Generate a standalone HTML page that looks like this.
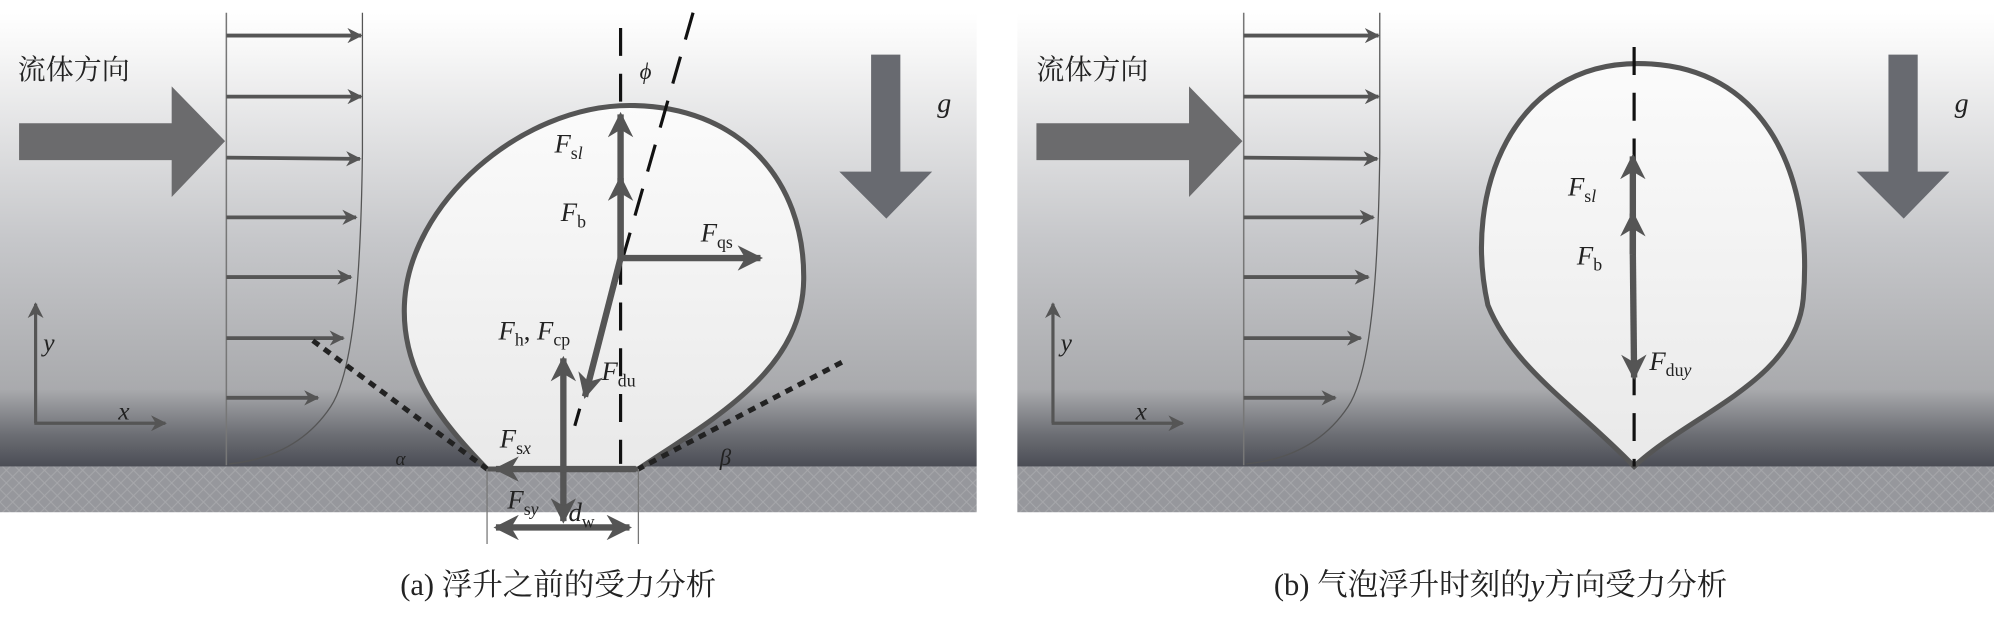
<!DOCTYPE html>
<html><head><meta charset="utf-8"><style>
html,body{margin:0;padding:0;background:#fff;}
svg{display:block;}
.t{font-family:"Liberation Serif","Noto Serif CJK SC",serif;font-style:italic;fill:#222;}
.s{font-style:normal;}
.c{font-family:"Liberation Serif","Noto Serif CJK SC",serif;fill:#222;}
</style></head><body>
<svg width="1994" height="619" viewBox="0 0 1568 487" preserveAspectRatio="none" xmlns="http://www.w3.org/2000/svg">
<defs>
<linearGradient id="bg" x1="0" y1="0" x2="0" y2="1">
<stop offset="0" stop-color="#ffffff"/>
<stop offset="0.08" stop-color="#f7f7f7"/>
<stop offset="0.5" stop-color="#c6c7ca"/>
<stop offset="0.83" stop-color="#a9aaad"/>
<stop offset="0.93" stop-color="#6c6e74"/>
<stop offset="1" stop-color="#4b4d55"/>
</linearGradient>
<linearGradient id="bub" x1="0" y1="0" x2="0" y2="1">
<stop offset="0" stop-color="#fbfbfb"/><stop offset="1" stop-color="#e9e9e9"/>
</linearGradient>
<pattern id="hx" width="10" height="10" patternUnits="userSpaceOnUse">
<rect width="10" height="10" fill="#96979c"/>
<path d="M0,5 L5,0 L10,5 L5,10 Z" fill="none" stroke="#a6a7ab" stroke-width="0.8"/>
</pattern>
<marker id="ah" viewBox="0 0 10 10" refX="9" refY="5" markerWidth="4" markerHeight="4" orient="auto-start-reverse" markerUnits="strokeWidth">
<path d="M0,0 L10,5 L0,10 L3,5 Z" fill="#555"/></marker>
<marker id="ah2" viewBox="0 0 10 10" refX="9" refY="5" markerWidth="5" markerHeight="5" orient="auto-start-reverse" markerUnits="strokeWidth">
<path d="M0,0 L10,5 L0,10 L3,5 Z" fill="#555"/></marker>
</defs>

<!-- Panel A -->
<rect x="0" y="10" width="768" height="357" fill="url(#bg)"/>
<rect x="0" y="367" width="768" height="36" fill="url(#hx)"/>
<text x="14" y="62" class="c" font-size="22">流体方向</text>
<path d="M15,97 H135 V68 L177,111 L135,155 V126 H15 Z" fill="#6b6b6d"/>
<line x1="178" y1="10" x2="178" y2="366" stroke="#777" stroke-width="1.2"/>
<path d="M285,10 L285,120 C284,200 280,290 260,320 C240,350 210,362 180,365" fill="none" stroke="#555" stroke-width="1"/>
<g stroke="#555" stroke-width="3" marker-end="url(#ah)">
<line x1="178" y1="28" x2="284" y2="28"/><line x1="178" y1="76" x2="284" y2="76"/>
<line x1="178" y1="124" x2="283" y2="125"/><line x1="178" y1="171" x2="280" y2="171"/>
<line x1="178" y1="218" x2="276" y2="218"/><line x1="178" y1="266" x2="270" y2="266"/>
<line x1="178" y1="313" x2="250" y2="313"/></g>
<g stroke="#555" stroke-width="2.5" marker-end="url(#ah2)">
<polyline points="28,333 28,239" fill="none"/><line x1="27" y1="333" x2="130" y2="333"/></g>
<text x="34" y="276" class="t" font-size="20">y</text>
<text x="93" y="330" class="t" font-size="20">x</text>
<path d="M685,43 H708 V135 H733 L697,172 L660,135 H685 Z" fill="#686a70"/>
<text x="737" y="88" class="t" font-size="22">g</text>

<path d="M383,369 C345,330 316,292 318,240 C321,160 410,83 495,83 C580,83 633,140 632,220 C631,292 560,330 502,369 Z" fill="url(#bub)" stroke="#555" stroke-width="4"/>
<line x1="488" y1="22" x2="488" y2="365" stroke="#111" stroke-width="2.5" stroke-dasharray="22,14"/>
<line x1="545" y1="10" x2="452" y2="335" stroke="#111" stroke-width="2.5" stroke-dasharray="22,14"/>
<line x1="246" y1="268" x2="383" y2="369" stroke="#222" stroke-width="4" stroke-dasharray="6,5"/>
<line x1="662" y1="285" x2="502" y2="369" stroke="#222" stroke-width="4" stroke-dasharray="6,5"/>
<g stroke="#555" stroke-width="5" fill="none">
<line x1="488" y1="203" x2="488" y2="90" marker-end="url(#ah)"/>
<line x1="488" y1="203" x2="488" y2="140" marker-end="url(#ah)"/>
<line x1="488" y1="203" x2="598" y2="203" marker-end="url(#ah)"/>
<line x1="488" y1="203" x2="460" y2="312" marker-end="url(#ah)"/>
<line x1="443" y1="345" x2="443" y2="282" marker-end="url(#ah)"/>
<line x1="443" y1="345" x2="443" y2="410" marker-end="url(#ah)"/>
<line x1="500" y1="369" x2="390" y2="369" marker-end="url(#ah)"/>
<line x1="390" y1="415" x2="495" y2="415" marker-start="url(#ah)" marker-end="url(#ah)"/>
</g>
<line x1="383" y1="369" x2="383" y2="428" stroke="#777" stroke-width="1"/>
<line x1="502" y1="369" x2="502" y2="428" stroke="#777" stroke-width="1"/>
<text x="436" y="120" class="t" font-size="21">F<tspan class="s" font-size="14" dy="5">s</tspan><tspan font-size="14">l</tspan></text>
<text x="441" y="174" class="t" font-size="21">F<tspan class="s" font-size="14" dy="5">b</tspan></text>
<text x="551" y="190" class="t" font-size="21">F<tspan class="s" font-size="14" dy="5">qs</tspan></text>
<text x="392" y="267" class="t" font-size="21">F<tspan class="s" font-size="14" dy="5">h</tspan><tspan class="s" dy="-5">, </tspan>F<tspan class="s" font-size="14" dy="5">cp</tspan></text>
<text x="473" y="299" class="t" font-size="21">F<tspan class="s" font-size="14" dy="5">du</tspan></text>
<text x="393" y="352" class="t" font-size="21">F<tspan class="s" font-size="14" dy="5">s</tspan><tspan font-size="14">x</tspan></text>
<text x="399" y="400" class="t" font-size="21">F<tspan class="s" font-size="14" dy="5">s</tspan><tspan font-size="14">y</tspan></text>
<text x="447" y="410" class="t" font-size="21">d<tspan class="s" font-size="14" dy="5">w</tspan></text>
<text x="503" y="62" class="t" font-size="18">ϕ</text>
<text x="311" y="366" class="t" font-size="15">α</text>
<text x="566" y="366" class="t" font-size="18">β</text>
<text x="439" y="468" class="c" font-size="24" text-anchor="middle">(a) 浮升之前的受力分析</text>

<!-- Panel B -->
<rect x="800" y="10" width="768" height="357" fill="url(#bg)"/>
<rect x="800" y="367" width="768" height="36" fill="url(#hx)"/>
<text x="815" y="62" class="c" font-size="22">流体方向</text>
<path d="M815,97 H935 V68 L977,111 L935,155 V126 H815 Z" fill="#6b6b6d"/>
<line x1="978" y1="10" x2="978" y2="366" stroke="#777" stroke-width="1.2"/>
<path d="M1085,10 L1085,120 C1084,200 1080,290 1060,320 C1040,350 1010,362 980,365" fill="none" stroke="#555" stroke-width="1"/>
<g stroke="#555" stroke-width="3" marker-end="url(#ah)">
<line x1="978" y1="28" x2="1084" y2="28"/><line x1="978" y1="76" x2="1084" y2="76"/>
<line x1="978" y1="124" x2="1083" y2="125"/><line x1="978" y1="171" x2="1080" y2="171"/>
<line x1="978" y1="218" x2="1076" y2="218"/><line x1="978" y1="266" x2="1070" y2="266"/>
<line x1="978" y1="313" x2="1050" y2="313"/></g>
<g stroke="#555" stroke-width="2.5" marker-end="url(#ah2)">
<polyline points="828,333 828,239" fill="none"/><line x1="827" y1="333" x2="930" y2="333"/></g>
<text x="834" y="276" class="t" font-size="20">y</text>
<text x="893" y="330" class="t" font-size="20">x</text>
<path d="M1485,43 H1508 V135 H1533 L1497,172 L1460,135 H1485 Z" fill="#686a70"/>
<text x="1537" y="88" class="t" font-size="22">g</text>
<path d="M1285,367 C1240,320 1190,290 1170,240 C1150,150 1190,50 1288,50 C1390,50 1426,140 1418,235 C1412,300 1330,325 1285,367 Z" fill="url(#bub)" stroke="#555" stroke-width="4"/>
<line x1="1285" y1="37" x2="1285" y2="367" stroke="#111" stroke-width="2.5" stroke-dasharray="22,14"/>
<g stroke="#555" stroke-width="5" fill="none">
<line x1="1284" y1="200" x2="1284" y2="123" marker-end="url(#ah)"/>
<line x1="1284" y1="200" x2="1284" y2="168" marker-end="url(#ah)"/>
<line x1="1284" y1="200" x2="1285" y2="297" marker-end="url(#ah)"/>
</g>
<text x="1233" y="154" class="t" font-size="21">F<tspan class="s" font-size="14" dy="5">s</tspan><tspan font-size="14">l</tspan></text>
<text x="1240" y="208" class="t" font-size="21">F<tspan class="s" font-size="14" dy="5">b</tspan></text>
<text x="1297" y="291" class="t" font-size="21">F<tspan class="s" font-size="14" dy="5">du</tspan><tspan font-size="14">y</tspan></text>
<text x="1180" y="468" class="c" font-size="24" text-anchor="middle">(b) 气泡浮升时刻的<tspan font-style="italic">y</tspan>方向受力分析</text>
</svg>
</body></html>
